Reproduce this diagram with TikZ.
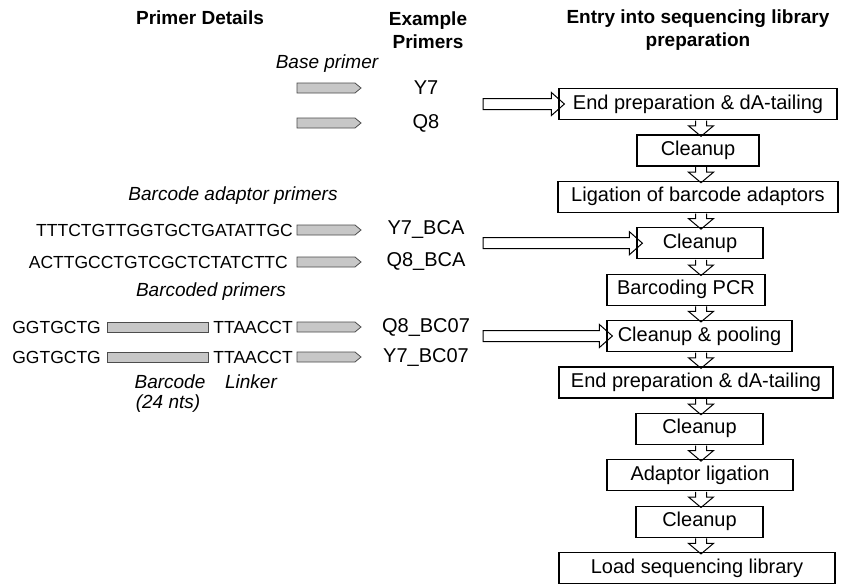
\documentclass[tikz,border=0pt]{standalone}
\usepackage{fontspec}
\setmainfont{Liberation Sans}
\usetikzlibrary{calc}
\newcommand\vflow[2]{\draw[hollow] let \p1=(ax |- #1.south), \p2=(ax |- #2.north) in
  (\x1-5.5pt,\y1-0.6pt) -- (\x1-5.5pt,\y2+8.5pt) -- (\x1-12.5pt,\y2+8.5pt) -- (\x1,\y2-2pt)
  -- (\x1+12.5pt,\y2+8.5pt) -- (\x1+5.5pt,\y2+8.5pt) -- (\x1+5.5pt,\y1-0.6pt);}
\newcommand\hflow[2]{\draw[hollow] let \p1=(tx |- #2.west), \p2=(#2.west) in
  (\x1,\y1+5.5pt) -- (\x2-7pt,\y1+5.5pt) -- (\x2-7pt,\y1+11.5pt) -- (\x2+6pt,\y1)
  -- (\x2-7pt,\y1-11.5pt) -- (\x2-7pt,\y1-5.5pt) -- (\x1,\y1-5.5pt) -- cycle;}
\newcommand\primerarrow[1]{\draw[primer] let \p1=(#1) in
  (\x1,\y1+5pt) -- (\x1+58pt,\y1+5pt) -- (\x1+64pt,\y1) -- (\x1+58pt,\y1-5pt) -- (\x1,\y1-5pt) -- cycle;}
\begin{document}
\begin{tikzpicture}[x=1pt,y=-1pt,
  stepbox/.style={draw=black, line width=1.2pt, minimum height=31pt, inner sep=0pt,
    font=\fontsize{20}{24}\selectfont},
  hollow/.style={draw=black, line width=1pt, line join=miter},
  primer/.style={draw=black!70, fill=black!22, line width=0.8pt},
  hdr/.style={font=\bfseries\fontsize{19}{23}\selectfont, align=center, inner sep=0pt},
  lbl/.style={font=\itshape\fontsize{19}{23}\selectfont, inner sep=0pt},
  seq/.style={font=\fontsize{17.5}{21}\selectfont, inner sep=0pt},
  pname/.style={font=\fontsize{20}{24}\selectfont, inner sep=0pt},
]
\useasboundingbox[fill=white] (0,0) rectangle (841,584);

% headers
\node[hdr] (h1) at (200,18) {Primer Details};
\node[hdr] (h2) at (428,30) {Example\\Primers};
\node[hdr] (h3) at (698,30) {Entry into sequencing library\\preparation};

% flow boxes
\node[stepbox, minimum width=278pt] (b1) at (698,104) {End preparation \& dA-tailing};
\node[stepbox, minimum width=122pt] (b2) at (698,150.4) {Cleanup};
\node[stepbox, minimum width=280pt] (b3) at (698,196.8) {Ligation of barcode adaptors};
\node[stepbox, minimum width=126pt] (b4) at (700,243.2) {Cleanup};
\node[stepbox, minimum width=158pt] (b5) at (686,289.6) {Barcoding PCR};
\node[stepbox, minimum width=185pt] (b6) at (699.5,336) {Cleanup \& pooling};
\node[stepbox, minimum width=274pt] (b7) at (696,382.4) {End preparation \& dA-tailing};
\node[stepbox, minimum width=127pt] (b8) at (699.5,428.8) {Cleanup};
\node[stepbox, minimum width=186pt] (b9) at (700,475.2) {Adaptor ligation};
\node[stepbox, minimum width=127pt] (b10) at (699.5,521.6) {Cleanup};
\node[stepbox, minimum width=276pt] (b11) at (697,568) {Load sequencing library};

\coordinate (ax) at (701,0);
\coordinate (tx) at (483,0);
\vflow{b1}{b2}
\vflow{b2}{b3}
\vflow{b3}{b4}
\vflow{b4}{b5}
\vflow{b5}{b6}
\vflow{b6}{b7}
\vflow{b7}{b8}
\vflow{b8}{b9}
\vflow{b9}{b10}
\vflow{b10}{b11}
\hflow{tx}{b1}
\hflow{tx}{b4}
\hflow{tx}{b6}

% left: base primers
\node[lbl] (l1) at (327,64) {Base primer};
\coordinate (p1) at (297,88);
\coordinate (p2) at (297,123);
\primerarrow{p1}
\primerarrow{p2}
\node[pname] (n1) at (426,88) {Y7};
\node[pname] (n2) at (426,123) {Q8};

% barcode adaptor primers
\node[lbl] (l2) at (233,196) {Barcode adaptor primers};
\node[seq, anchor=east] (s1) at (293,230) {TTTCTGTTGGTGCTGATATTGC};
\node[seq, anchor=east] (s2) at (288,262) {ACTTGCCTGTCGCTCTATCTTC};
\coordinate (p3) at (297,230);
\coordinate (p4) at (297,262);
\primerarrow{p3}
\primerarrow{p4}
\node[pname] (n3) at (426,230) {Y7\_BCA};
\node[pname] (n4) at (426,262) {Q8\_BCA};

% barcoded primers
\node[lbl] (l3) at (211,292) {Barcoded primers};
\node[seq, anchor=east] (g1) at (101,327) {GGTGCTG};
\draw[primer] (107,322) rectangle (208,332);
\node[seq, anchor=east] (k1) at (293,327) {TTAACCT};
\coordinate (p5) at (297,327);
\primerarrow{p5}
\node[pname] (n5) at (426,327) {Q8\_BC07};

\node[seq, anchor=east] (g2) at (101,357) {GGTGCTG};
\draw[primer] (107,352) rectangle (208,362);
\node[seq, anchor=east] (k2) at (293,357) {TTAACCT};
\coordinate (p6) at (297,357);
\primerarrow{p6}
\node[pname] (n6) at (426,357) {Y7\_BC07};

\node[lbl] (l4) at (170,382) {Barcode};
\node[lbl] (l5) at (168,404) {(24 nts)};
\node[lbl] (l6) at (251,382) {Linker};
\end{tikzpicture}
\end{document}
